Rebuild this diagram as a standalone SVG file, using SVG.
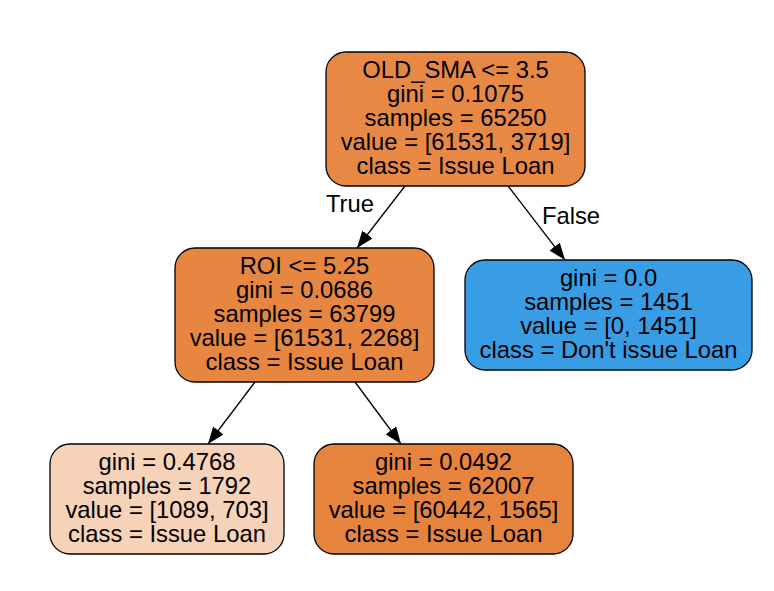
<svg xmlns="http://www.w3.org/2000/svg" width="774" height="591" viewBox="0 0 774 591">
<style>
.node rect{stroke:#000;stroke-width:1.3}
text{font-family:"Liberation Sans",Arial,Helvetica,sans-serif;font-size:23.8px;fill:#000;text-anchor:middle}
.edges line{stroke:#000;stroke-width:1.3}
</style>
<defs>
<marker id="arr" viewBox="0 0 17 13" refX="17" refY="6.5" markerWidth="17" markerHeight="13" markerUnits="userSpaceOnUse" orient="auto">
<path d="M0,0 L17,6.5 L0,13 z" fill="#000"/>
</marker>
</defs>
<rect width="774" height="591" fill="#fff"/>
<g class="edges">
<line x1="405" y1="186" x2="357" y2="248" marker-end="url(#arr)"/>
<line x1="508" y1="186" x2="565" y2="260" marker-end="url(#arr)"/>
<line x1="255" y1="382" x2="208" y2="444" marker-end="url(#arr)"/>
<line x1="355" y1="382" x2="401" y2="444" marker-end="url(#arr)"/>
<text x="350" y="212">True</text>
<text x="571" y="224">False</text>
</g>
<g id="node0" class="node">
<rect x="326" y="52" width="259" height="134" rx="20" fill="#e78945"/>
<text x="455.5" y="78">OLD_SMA &lt;= 3.5</text>
<text x="455.5" y="102">gini = 0.1075</text>
<text x="455.5" y="126">samples = 65250</text>
<text x="455.5" y="150">value = [61531, 3719]</text>
<text x="455.5" y="174">class = Issue Loan</text>
</g>
<g id="node1" class="node">
<rect x="175" y="248" width="259" height="134" rx="20" fill="#e68640"/>
<text x="304.5" y="274">ROI &lt;= 5.25</text>
<text x="304.5" y="298">gini = 0.0686</text>
<text x="304.5" y="322">samples = 63799</text>
<text x="304.5" y="346">value = [61531, 2268]</text>
<text x="304.5" y="370">class = Issue Loan</text>
</g>
<g id="node2" class="node">
<rect x="465" y="260" width="287" height="110" rx="20" fill="#399de5"/>
<text x="608.5" y="286">gini = 0.0</text>
<text x="608.5" y="310">samples = 1451</text>
<text x="608.5" y="334">value = [0, 1451]</text>
<text x="608.5" y="358">class = Don't issue Loan</text>
</g>
<g id="node3" class="node">
<rect x="50" y="444" width="234" height="110" rx="20" fill="#f6d2b9"/>
<text x="167" y="470">gini = 0.4768</text>
<text x="167" y="494">samples = 1792</text>
<text x="167" y="518">value = [1089, 703]</text>
<text x="167" y="542">class = Issue Loan</text>
</g>
<g id="node4" class="node">
<rect x="314" y="444" width="259" height="110" rx="20" fill="#e6843e"/>
<text x="443.5" y="470">gini = 0.0492</text>
<text x="443.5" y="494">samples = 62007</text>
<text x="443.5" y="518">value = [60442, 1565]</text>
<text x="443.5" y="542">class = Issue Loan</text>
</g>
</svg>
